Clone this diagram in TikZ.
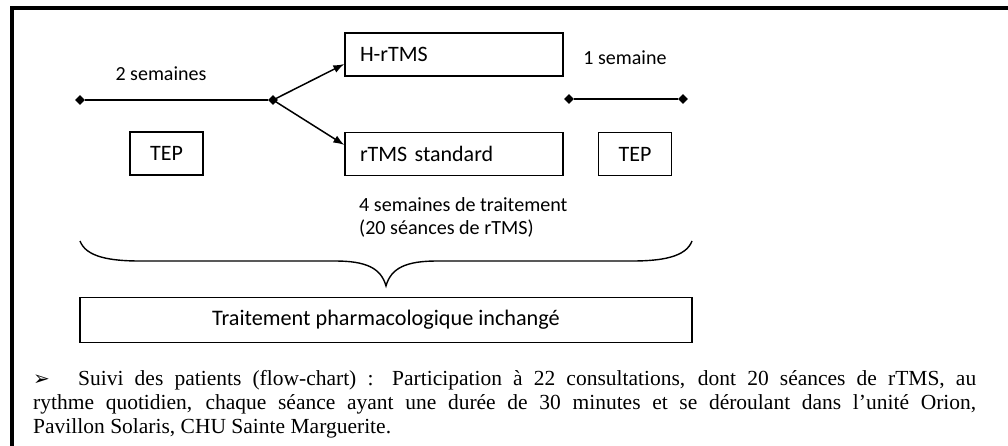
\documentclass[tikz,border=0pt]{standalone}
\usepackage{fontspec}
\setmainfont{Liberation Serif}
\newfontfamily\calib{Carlito}
\newfontfamily\dejavu{DejaVu Sans}
\usetikzlibrary{shapes.geometric,arrows.meta,calc}
\begin{document}
\begin{tikzpicture}[x=1pt,y=-1pt,
  boxstyle/.style={draw,line width=1.3pt,inner sep=0pt,font=\calib\fontsize{22}{26}\selectfont},
  leftbox/.style={boxstyle,minimum width=218pt,minimum height=43pt,text width=188pt,align=left},
  tepbox/.style={boxstyle,minimum width=73pt,minimum height=43pt},
  dot/.style={diamond,fill=black,inner sep=0pt,minimum size=10pt},
  conn/.style={line width=1.5pt},
  arr/.style={conn,-{Latex[length=11pt,width=8pt]}},
  lbl/.style={font=\calib\fontsize{20}{24}\selectfont,inner sep=0pt},
  frame/.style={line width=4pt}]
\useasboundingbox (0,0) rectangle (1008,446);
\fill[white] (0,0) rectangle (1008,446);
% frame
\draw[frame] (12,446) -- (12,8) -- (1008,8);
% nodes
\node[dot] (d1) at (80,100) {};
\node[dot] (d2) at (273,100) {};
\node[dot] (d3) at (569,99) {};
\node[dot] (d4) at (683,99) {};
\node[leftbox] (hrtms) at (454,54.5) {\raisebox{-2pt}{H-rTMS}};
\node[leftbox] (rtms) at (454,154) {\raisebox{-2pt}{rTMS standard}};
\node[tepbox] (tep1) at (166.5,153.5) {\raisebox{-1pt}{TEP}};
\node[tepbox] (tep2) at (635,154) {\raisebox{-1pt}{TEP}};
\node[lbl] (l2s) at (161,74) {2 semaines};
\node[lbl] (l1s) at (625,58) {1 semaine};
\node[lbl,anchor=north west,align=left,font=\calib\fontsize{20.1}{23.5}\selectfont] (l4s) at (359,197) {4 semaines de traitement\\(20 séances de rTMS)};
\node[boxstyle,minimum width=612pt,minimum height=45pt,font=\calib\fontsize{22.2}{26}\selectfont] (pharma) at (386,320) {\raisebox{-1pt}{Traitement pharmacologique inchangé}};
% connectors
\draw[conn] (d1) -- (d2);
\draw[conn] (d3) -- (d4);
\draw[arr] (d2.center) -- ([yshift=-9.5pt]hrtms.west);
\draw[arr] (d2.center) -- ([yshift=9pt]rtms.west);
% brace
\draw[line width=1.4pt] (80,241) .. controls (86,257) and (110,261) .. (140,261) -- (335,261) .. controls (366,261) and (381,268) .. (386,286) .. controls (391,268) and (406,261) .. (437,261) -- (632,261) .. controls (662,261) and (686,257) .. (692,241);
% bottom text
\node[anchor=north west,inner sep=0pt,text width=943pt,align=justify,font=\fontsize{21.5}{24}\selectfont] (txt) at (33,370) {\makebox[45pt][l]{\dejavu\fontsize{20}{24}\selectfont ➢}Suivi des patients (flow-chart) : Participation à 22 consultations, dont 20 séances de rTMS, au\linebreak rythme quotidien, chaque séance ayant une durée de 30 minutes et se déroulant dans l’unité Orion,\linebreak Pavillon Solaris, CHU Sainte Marguerite.};
\end{tikzpicture}
\end{document}
